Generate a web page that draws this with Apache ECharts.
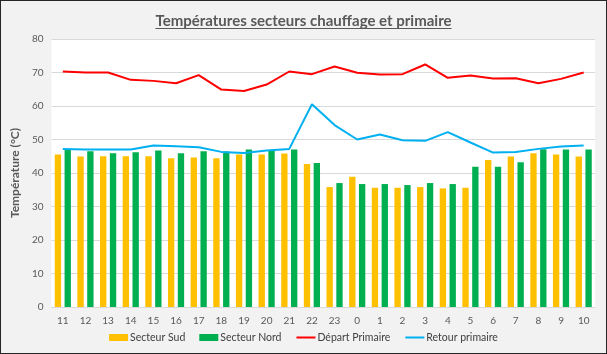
<!DOCTYPE html>
<html>
<head>
    <meta charset="utf-8">
    <title>Températures secteurs chauffage et primaire</title>
    <script src="https://cdn.jsdelivr.net/npm/echarts/dist/echarts.min.js"></script>
    <style>
        html, body { margin: 0; padding: 0; }
        #main { width: 605px; height: 352px; border: 1px solid #262626; background: #f2f2f2; }
    </style>
</head>
<body>
    <div id="main"></div>
    <script>
        var hours = ['11', '12', '13', '14', '15', '16', '17', '18', '19', '20', '21', '22', '23',
                     '0', '1', '2', '3', '4', '5', '6', '7', '8', '9', '10'];
        var secteurSud = [45.5, 44.9, 45, 45, 45, 44.4, 44.6, 44.4, 45.5, 45.5, 45.8, 42.7, 35.8,
                          38.9, 35.6, 35.6, 35.8, 35.4, 35.6, 43.9, 44.9, 45.9, 45.5, 44.9];
        var secteurNord = [47.1, 46.5, 45.9, 46.2, 46.7, 45.9, 46.5, 46.4, 47, 46.7, 47, 43, 37,
                           36.7, 36.7, 36.4, 37, 36.7, 41.9, 41.9, 43.2, 47.1, 47, 47];
        var departPrimaire = [70.3, 70, 70, 67.8, 67.5, 66.8, 69.2, 64.9, 64.5, 66.4, 70.3, 69.5, 71.8,
                              69.9, 69.4, 69.5, 72.4, 68.4, 69.1, 68.2, 68.3, 66.8, 68.1, 70];
        var retourPrimaire = [47.2, 47, 47, 47, 48.2, 48, 47.7, 46.3, 46, 46.7, 47.2, 60.5, 54.3,
                              50, 51.5, 49.8, 49.6, 52.2, 49.1, 46.1, 46.3, 47.2, 47.9, 48.2];

        var chart = echarts.init(document.getElementById('main'));
        var font = 'Lato';
        var titleText = 'Températures secteurs chauffage et primaire';

        var option = {
            animation: false,
            textStyle: { fontFamily: font },
            title: {
                text: titleText,
                left: 'center',
                top: 8,
                textStyle: { fontSize: 15, fontWeight: 'bold', color: '#595959', fontFamily: font }
            },
            grid: {
                left: 46, right: 11, top: 38, bottom: 46,
                show: true, backgroundColor: '#ffffff', borderWidth: 0
            },
            legend: {
                bottom: 5,
                itemGap: 14,
                itemWidth: 19,
                itemHeight: 7,
                textStyle: { fontSize: 10.5, color: '#404040', fontFamily: font, padding: [0, 0, 0, -3] },
                data: [
                    { name: 'Secteur Sud', icon: 'rect' },
                    { name: 'Secteur Nord', icon: 'rect' },
                    { name: 'Départ Primaire', itemStyle: { opacity: 0 } },
                    { name: 'Retour primaire', itemStyle: { opacity: 0 } }
                ]
            },
            xAxis: {
                type: 'category',
                data: hours,
                axisTick: { show: false },
                axisLine: { lineStyle: { color: '#d9d9d9' } },
                axisLabel: { color: '#595959', fontSize: 10, margin: 9 }
            },
            yAxis: {
                type: 'value',
                min: 0, max: 80, interval: 10,
                name: 'Température (°C)',
                nameLocation: 'middle',
                nameGap: 27,
                nameTextStyle: { fontWeight: 'bold', fontSize: 12, color: '#595959' },
                axisLabel: { color: '#595959', fontSize: 10 },
                splitLine: { lineStyle: { color: '#d9d9d9' } }
            },
            series: [
                {
                    name: 'Secteur Sud', type: 'bar', data: secteurSud,
                    barWidth: '28%', barGap: '55%',
                    itemStyle: { color: '#ffc000' }
                },
                {
                    name: 'Secteur Nord', type: 'bar', data: secteurNord,
                    barWidth: '28%',
                    itemStyle: { color: '#00b050' }
                },
                {
                    name: 'Départ Primaire', type: 'line', data: departPrimaire,
                    symbol: 'none', lineStyle: { color: '#ff0000', width: 2 },
                    itemStyle: { color: '#ff0000' }
                },
                {
                    name: 'Retour primaire', type: 'line', data: retourPrimaire,
                    symbol: 'none', lineStyle: { color: '#00b0f0', width: 2 },
                    itemStyle: { color: '#00b0f0' }
                }
            ]
        };

        chart.setOption(option);

        // underline under the title
        var ctx = document.createElement('canvas').getContext('2d');
        ctx.font = 'bold 15px ' + font;
        var tw = ctx.measureText(titleText).width;
        var cx = 605 / 2;
        chart.setOption({
            graphic: [{
                type: 'line',
                shape: { x1: cx - tw / 2, y1: 27.5, x2: cx + tw / 2, y2: 27.5 },
                style: { stroke: '#595959', lineWidth: 1 }
            }]
        });
    </script>
</body>
</html>
